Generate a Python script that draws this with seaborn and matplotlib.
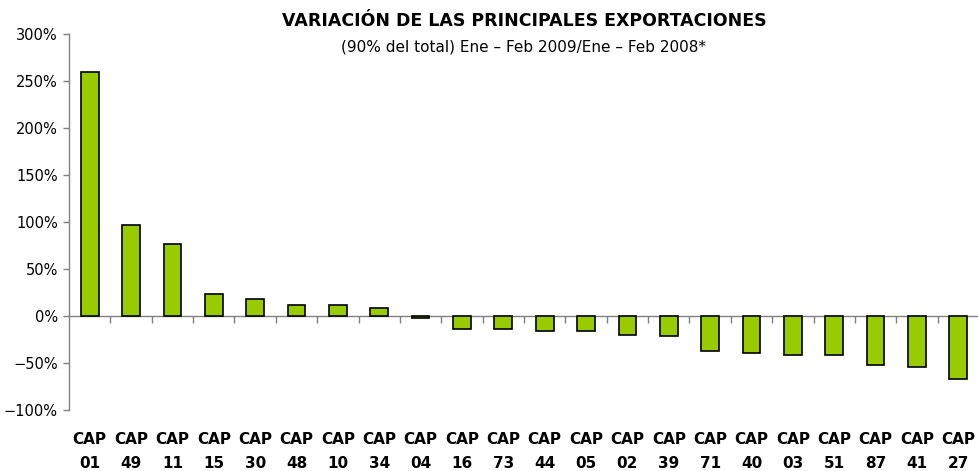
import matplotlib
matplotlib.use("Agg")
import matplotlib.pyplot as plt
import seaborn as sns
import pandas as pd
from matplotlib.ticker import FuncFormatter, FixedLocator

# data (variation in %)
capitulos = ["01", "49", "11", "15", "30", "48", "10", "34", "04", "16", "73",
             "44", "05", "02", "39", "71", "40", "03", "51", "87", "41", "27"]
variacion = [260, 97, 77, 23, 18, 12, 12, 9, -2, -14, -14,
             -16, -16, -20, -21, -37, -39, -41, -41, -52, -54, -67]
y_ticks = [-100, -50, 0, 50, 100, 150, 200, 250, 300]

df = pd.DataFrame({"cap": ["CAP\n" + c for c in capitulos], "var": variacion})

sns.set_theme(style="white")
plt.rcParams["font.family"] = ["DejaVu Sans"]
plt.rcParams["text.color"] = "black"

fig = plt.figure(figsize=(9.79, 4.71), dpi=100)
ax = fig.add_axes([69 / 979, 1 - 410 / 471, 910 / 979, 376 / 471])

sns.barplot(data=df, x="cap", y="var", color="#99CC00", edgecolor="black",
            linewidth=1.2, width=0.43, saturation=1, ax=ax)

ax.set_xlim(-0.5, len(capitulos) - 0.5)
ax.set_ylim(-100, 300)
ax.set_xlabel("")
ax.set_ylabel("")

# y axis
ax.yaxis.set_major_locator(FixedLocator(y_ticks))
ax.yaxis.set_major_formatter(FuncFormatter(lambda v, p: f"{v:.0f}%".replace("-", "\u2212")))
ax.tick_params(axis="y", left=True, length=4, width=1, color="#808080",
               labelsize=10.5, pad=4, labelcolor="black")
for s in ["top", "right", "bottom"]:
    ax.spines[s].set_visible(False)
ax.spines["left"].set_color("#808080")
ax.spines["left"].set_linewidth(1)

# category labels at the bottom
ax.tick_params(axis="x", bottom=False, length=0, pad=16, labelsize=11,
               labelcolor="black")
for lab in ax.get_xticklabels():
    lab.set_fontweight("bold")
    lab.set_linespacing(1.75)

# zero line with ticks between categories
zero = ax.secondary_xaxis(0.25)
zero.set_xticks([i + 0.5 for i in range(len(capitulos) - 1)])
zero.set_xticklabels([])
zero.tick_params(axis="x", length=5, width=1, color="#808080", direction="out")
zero.spines["bottom"].set_color("#808080")
zero.spines["bottom"].set_linewidth(1)
ax.set_zorder(1)

cx = (69 + 979) / 2 / 979
fig.text(cx, 1 - 21 / 471, "VARIACIÓN DE LAS PRINCIPALES EXPORTACIONES",
         ha="center", va="center", fontsize=12.5, fontweight="bold", color="black")
fig.text(cx, 1 - 47 / 471, "(90% del total) Ene \u2013 Feb 2009/Ene \u2013 Feb 2008*",
         ha="center", va="center", fontsize=11, color="black")

fig.savefig("out.png", dpi=100)
